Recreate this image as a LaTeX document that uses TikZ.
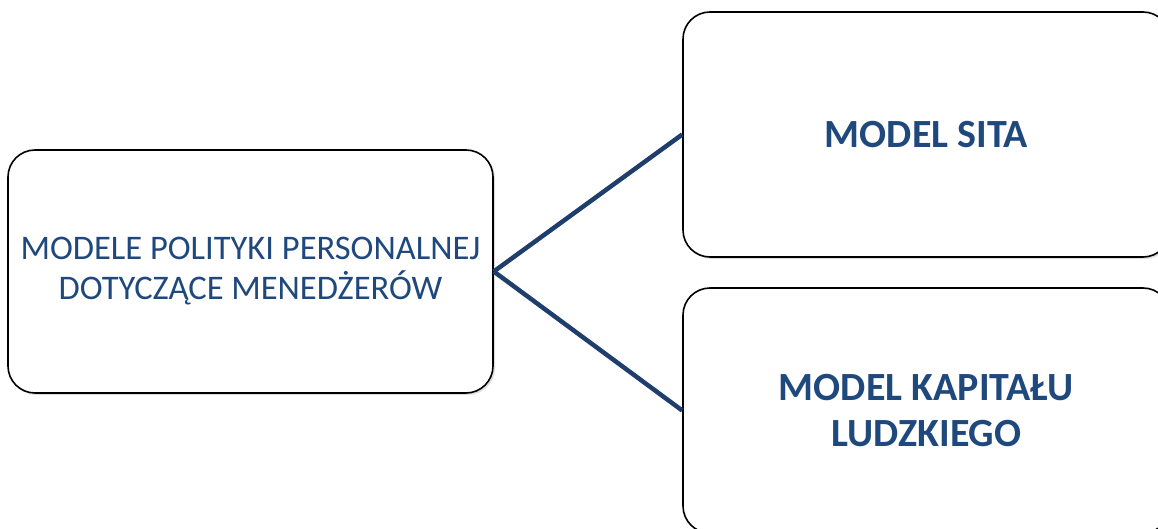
\documentclass[tikz,border=0pt]{standalone}
\usepackage{fontspec}
\setmainfont{Carlito}
\usetikzlibrary{shadows}
\definecolor{textblue}{HTML}{1F497D}
\definecolor{lineblue}{HTML}{1F3E6C}
\tikzset{
  card/.style={draw=black, line width=1.6pt, fill=white, rounded corners=27pt,
    align=center, text=textblue,
    drop shadow={opacity=0.25, shadow xshift=2pt, shadow yshift=-2pt}},
  link/.style={draw=lineblue, line width=4.5pt}
}
\begin{document}
\begin{tikzpicture}[x=1pt, y=-1pt]
  \useasboundingbox (0,0) rectangle (1158,529);
  \clip (0,0) rectangle (1158,529);
  \fill[white] (0,0) rectangle (1158,529);
  \node[card, minimum width=485pt, minimum height=243pt,
        font=\fontsize{34.5pt}{40pt}\selectfont] (L) at (250.5,271.5)
    {MODELE POLITYKI PERSONALNEJ\\DOTYCZĄCE MENEDŻERÓW};
  \node[card, minimum width=487pt, minimum height=245pt,
        font=\fontsize{40pt}{46pt}\selectfont\bfseries] (TR) at (926.5,134.5)
    {MODEL SITA};
  \node[card, minimum width=487pt, minimum height=245pt,
        font=\fontsize{40pt}{46pt}\selectfont\bfseries] (BR) at (926.5,410.5)
    {MODEL KAPITAŁU\\LUDZKIEGO};
  \draw[link] (L.east) -- (TR.west);
  \draw[link] (L.east) -- (BR.west);
\end{tikzpicture}
\end{document}
